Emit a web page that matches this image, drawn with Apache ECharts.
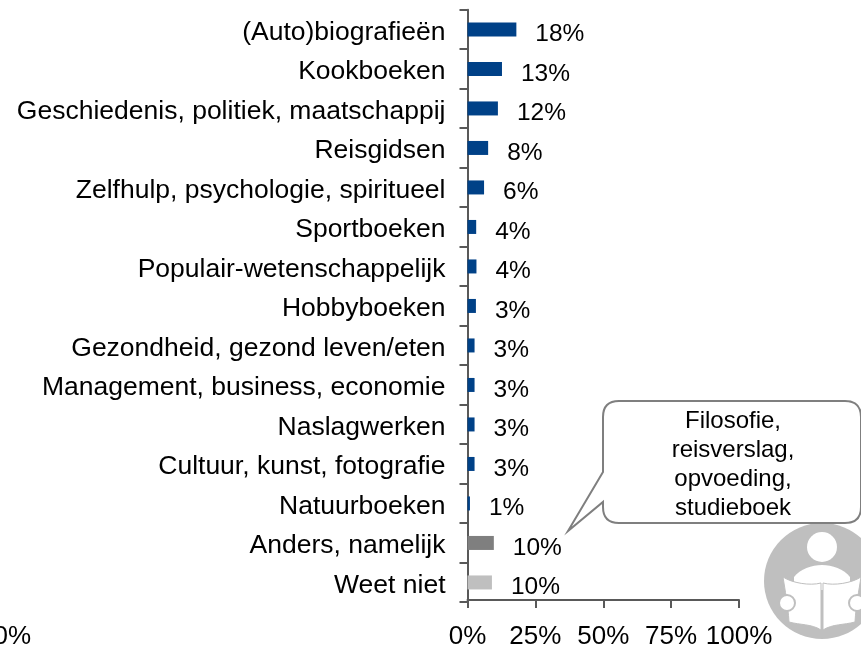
<!DOCTYPE html>
<html><head><meta charset="utf-8">
<style>html,body{margin:0;padding:0;background:#fff;overflow:hidden}#c{width:861px;height:646px}</style>
<script src="https://cdn.jsdelivr.net/npm/echarts@6/dist/echarts.min.js"></script>
</head><body><div id="c"></div>
<script>
const categories = ["(Auto)biografieën","Kookboeken","Geschiedenis, politiek, maatschappij","Reisgidsen","Zelfhulp, psychologie, spiritueel","Sportboeken","Populair-wetenschappelijk","Hobbyboeken","Gezondheid, gezond leven/eten","Management, business, economie","Naslagwerken","Cultuur, kunst, fotografie","Natuurboeken","Anders, namelijk","Weet niet"];
const barValues = [18,12.7,11.2,7.6,6.1,3.2,3.3,3.1,2.6,2.6,2.6,2.6,0.9,9.7,9.0];
const shownLabels = ["18%","13%","12%","8%","6%","4%","4%","3%","3%","3%","3%","3%","1%","10%","10%"];
const xTicks = [0,25,50,75,100];
const calloutLines = ["Filosofie,","reisverslag,","opvoeding,","studieboek"];
const BLUE='#004187', DARK='#7f7f7f', LIGHT='#bfbfbf', AX='#595959', FONT='"Liberation Sans",Arial,sans-serif';
function shape(name,d){echarts.graphic.registerShape(name,echarts.graphic.extendPath(d,{}));return name;}
const sBody=shape('iconBody','M794 577 C800 569 812 565 822 565 C832 565 844 569 850 577 L850 590 L794 590 Z');
const sBookL=shape('iconBookL','M783 577 C792 583 810 586 821 583 L821 630 C812 624 800 625 789 622 C788 605 785 590 783 577 Z');
const sBookR=shape('iconBookR','M861 577 C852 583 834 586 823 583 L823 630 C832 624 844 625 855 622 C856 605 859 590 861 577 Z');
const sCall=shape('calloutBox','M619 401 L845 401 Q861 401 861 417 L861 507 Q861 523 845 523 L619 523 Q603 523 603 507 L603 502 L568 531 L603 472 L603 417 Q603 401 619 401 Z');
const chart = echarts.init(document.getElementById('c'),null,{renderer:'canvas'});
chart.setOption({
  animation:false,
  grid:{left:467.5,right:122,top:9.7,bottom:43.8,containLabel:false,outerBoundsMode:'none'},
  xAxis:{type:'value',min:0,max:100,interval:25,splitLine:{show:false},offset:-2.2,
    axisLine:{show:true,lineStyle:{color:AX,width:2}},
    axisTick:{show:true,length:8,lineStyle:{color:AX,width:2}},
    axisLabel:{fontFamily:FONT,fontSize:26,color:'#000',margin:24,formatter:v=>xTicks.includes(v)?v+'%':'',hideOverlap:false}},
  yAxis:{type:'category',inverse:true,data:categories,
    axisLine:{show:true,lineStyle:{color:AX,width:2}},
    axisTick:{show:true,length:8,alignWithLabel:false,lineStyle:{color:AX,width:2}},
    axisLabel:{fontFamily:FONT,fontSize:26.5,color:'#000',margin:22,interval:0,verticalAlign:'top',lineHeight:6}},
  series:[{type:'bar',data:barValues,barWidth:14,
    itemStyle:{color:p=>p.dataIndex===13?DARK:p.dataIndex===14?LIGHT:BLUE},
    label:{show:true,position:'right',distance:18,offset:[1,5],fontFamily:FONT,fontSize:24.5,color:'#000',
      formatter:p=>shownLabels[p.dataIndex]}}],
  graphic:[
    {type:'text',silent:true,style:{x:31,y:637,text:'0%',align:'right',verticalAlign:'middle',font:'26px '+FONT,fill:'#000'}},
    {type:'circle',shape:{cx:822,cy:581,r:58},style:{fill:LIGHT}},
    {type:'circle',shape:{cx:822,cy:547,r:15},style:{fill:'#fff'}},
    {type:sBody,style:{fill:'#fff'}},
    {type:sBookL,style:{fill:'#fff',stroke:LIGHT,lineWidth:1}},
    {type:sBookR,style:{fill:'#fff',stroke:LIGHT,lineWidth:1}},
    {type:'circle',shape:{cx:787,cy:603,r:8},style:{fill:'#fff',stroke:LIGHT,lineWidth:2}},
    {type:'circle',shape:{cx:857,cy:603,r:8},style:{fill:'#fff',stroke:LIGHT,lineWidth:2}},
    {type:sCall,style:{fill:'#fff',stroke:DARK,lineWidth:2}},
    {type:'text',silent:true,style:{x:733,y:465,text:calloutLines.join('\n'),align:'center',verticalAlign:'middle',font:'24px '+FONT,lineHeight:29,fill:'#000'}}
  ]
});
</script></body></html>
